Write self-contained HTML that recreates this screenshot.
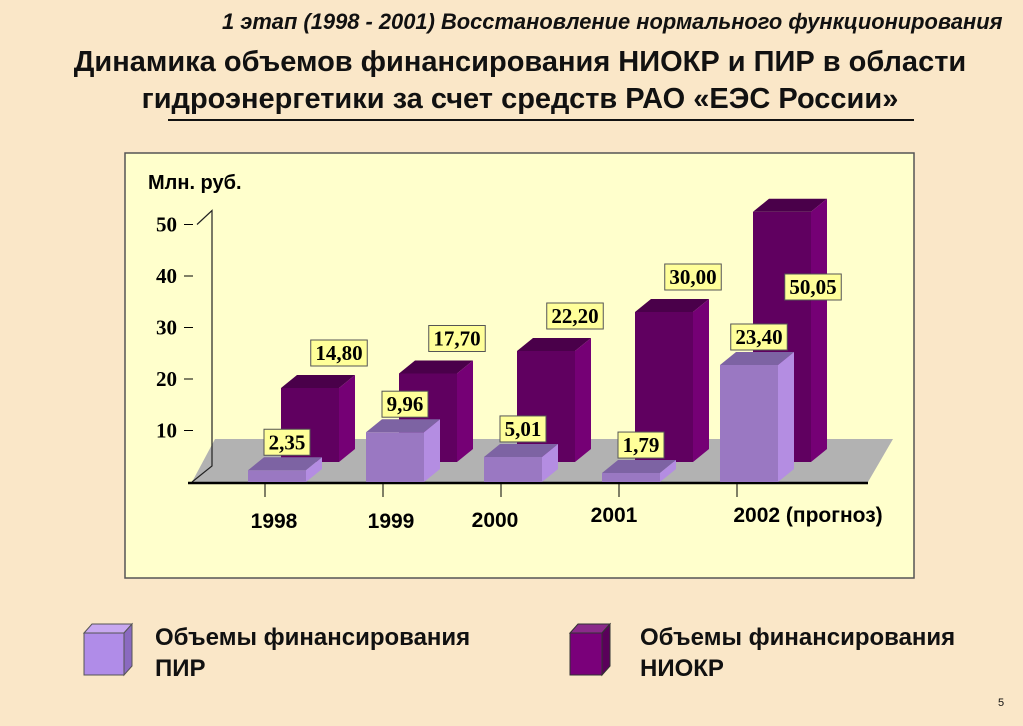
<!DOCTYPE html>
<html><head><meta charset="utf-8">
<style>
body{margin:0;width:1023px;height:726px;background:#fae7c8;font-family:"Liberation Sans",sans-serif;overflow:hidden;position:relative}
.t{position:absolute;white-space:nowrap}
</style></head><body>
<div class="t" style="left:222px;top:9px;font-size:21.9px;font-style:italic;font-weight:bold;color:#111">1 этап (1998 - 2001) Восстановление нормального функционирования</div>
<div class="t" style="left:0;width:1040px;text-align:center;top:44px;font-size:29px;font-weight:bold;line-height:37px;color:#111">Динамика объемов финансирования НИОКР и ПИР в области<br>гидроэнергетики за счет средств РАО «ЕЭС России»</div>
<div style="position:absolute;left:168px;top:119px;width:746px;height:2px;background:#111"></div>
<svg width="1023" height="726" style="position:absolute;left:0;top:0">
<rect x="125" y="153" width="789" height="425" fill="#ffffcc" stroke="#555" stroke-width="1.5"/>
<g id="g"></g>
</svg>
<svg width="1023" height="726" style="position:absolute;left:0;top:0;pointer-events:none">
<g><polygon points="84,633 124,633 124,675 84,675" fill="#b08ce8" stroke="#555"/><polygon points="84,633 92,624 132,624 124,633" fill="#c8a8f0" stroke="#555"/><polygon points="124,633 132,624 132,666 124,675" fill="#8a6ac0" stroke="#555"/></g>
<g><polygon points="570,633 602,633 602,675 570,675" fill="#7a007a" stroke="#333"/><polygon points="570,633 578,624 610,624 602,633" fill="#8a2a8a" stroke="#333"/><polygon points="602,633 610,624 610,666 602,675" fill="#5a005a" stroke="#333"/></g>
</svg>
<div class="t" style="left:155px;top:622px;font-size:24px;font-weight:bold;line-height:31px;color:#111">Объемы финансирования<br>ПИР</div>
<div class="t" style="left:640px;top:622px;font-size:24px;font-weight:bold;line-height:31px;color:#111">Объемы финансирования<br>НИОКР</div>
<div class="t" style="left:998px;top:697px;font-size:11px;color:#111">5</div>
<script>
const categories=["1998","1999","2000","2001","2002 (прогноз)"];
const pirValues=[2.35,9.96,5.01,1.79,23.40];
const niokrValues=[14.80,17.70,22.20,30.00,50.05];
const pirLabels=["2,35","9,96","5,01","1,79","23,40"];
const niokrLabels=["14,80","17,70","22,20","30,00","50,05"];
const yTicks=[10,20,30,40,50];
const NS="http://www.w3.org/2000/svg";
const g=document.getElementById('g');
function mk(tag,at,parent){const e=document.createElementNS(NS,tag);for(const k in at)e.setAttribute(k,at[k]);(parent||g).appendChild(e);return e;}
const x0=265,step=118,scale=5,pirBase=482,nkBase=462,W=58,dx=16,dy=13;
function xc(i){return x0+i*step;}
function yAxis(v){return 482-v*5.15;}
const fl=mk('polygon',{points:"192,482 868,482 893,439 215,439",fill:"#b2b2b2"});

const wall=mk('polyline',{points:`192,482 212,466 212,${yAxis(50)-14} 197,${yAxis(50)}`,stroke:"#222",fill:"none","stroke-width":1.2});

const base=mk('line',{x1:188,y1:483,x2:868,y2:483,stroke:"#000","stroke-width":2.5});

yTicks.forEach(v=>{const y=yAxis(v);
 mk('line',{x1:184,y1:y,x2:193,y2:y,stroke:"#000"});
 const t=mk('text',{x:177,y:y+7,"text-anchor":"end","font-family":"Liberation Serif, serif","font-weight":"bold","font-size":21});
 t.textContent=v;});
const yt=mk('text',{x:148,y:189,"font-family":"Liberation Sans, sans-serif","font-weight":"bold","font-size":20});
yt.textContent="Млн. руб.";
function bar(x,baseY,h,c,name){const grp=mk('g',{});
 const top=baseY-h;
 mk('polygon',{points:`${x},${baseY} ${x+W},${baseY} ${x+W},${top} ${x},${top}`,fill:c[0]},grp);
 mk('polygon',{points:`${x},${top} ${x+dx},${top-dy} ${x+W+dx},${top-dy} ${x+W},${top}`,fill:c[1]},grp);
 mk('polygon',{points:`${x+W},${baseY} ${x+W+dx},${baseY-dy} ${x+W+dx},${top-dy} ${x+W},${top}`,fill:c[2]},grp);
 return top;}
function label(cx,by,txt,name){const w=txt.length*10.5+4;const grp=mk('g',{});
 mk('rect',{x:cx-w/2,y:by-26,width:w,height:26,fill:"#ffff99",stroke:"#555"},grp);
 const t=mk('text',{x:cx,y:by-6,"text-anchor":"middle","font-family":"Liberation Serif, serif","font-weight":"bold","font-size":21},grp);t.textContent=txt;}
const nkC=["#600060","#4a004a","#750075"],pirC=["#9a78c2","#7d63a3","#b48de2"];
const lblX=[274,391,495,614,808],lblY=[528,528,527,522,522];
categories.forEach((c,i)=>{
 const nx=xc(i)+16;const nt=bar(nx,nkBase,niokrValues[i]*scale,nkC,'bar-niokr-'+c.slice(0,4));
 let ly=nt-22,lx=nx+W;if(ly<240){ly=300;lx=nx+W+2;}
 label(lx,ly,niokrLabels[i],'value-niokr-'+c.slice(0,4));
 const px=xc(i)-17;const pt=bar(px,pirBase,pirValues[i]*scale,pirC,'bar-pir-'+c.slice(0,4));
 label(px+W/2+10,pt-dy-2,pirLabels[i],'value-pir-'+c.slice(0,4));
 mk('line',{x1:xc(i),y1:484,x2:xc(i),y2:497,stroke:"#000"});
 const t=mk('text',{x:lblX[i],y:lblY[i],"text-anchor":"middle","font-family":"Liberation Sans, sans-serif","font-weight":"bold","font-size":21});
 t.textContent=c;
});
</script>
</body></html>
